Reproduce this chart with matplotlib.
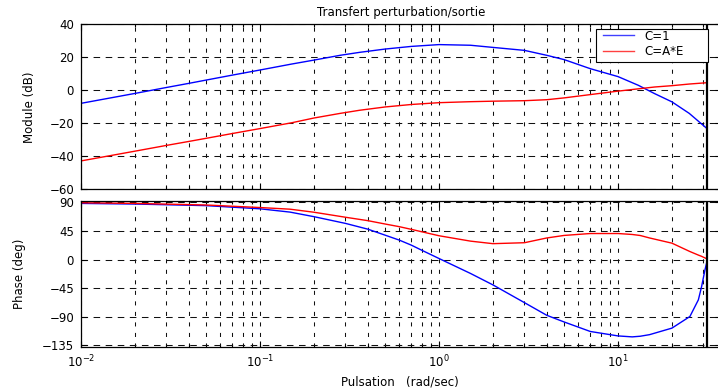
import matplotlib
matplotlib.use("Agg")
import matplotlib.pyplot as plt
from matplotlib.patches import Rectangle
from matplotlib.ticker import LogLocator, NullFormatter, FixedLocator

plt.rcParams['font.family'] = ['DejaVu Sans']
plt.rcParams['mathtext.fontset'] = 'dejavusans'

# Gain curves (dB) versus angular frequency (rad/s)
w_mag = [0.01, 0.02, 0.03, 0.04, 0.05, 0.07, 0.1, 0.15, 0.2, 0.28, 0.36, 0.5,
         0.7, 1.0, 1.5, 2.0, 3.0, 4.0, 5.0, 7.0, 10.0, 13.0, 16.0, 20.0,
         25.0, 31.4]
mag_c1 = [-7.9, -1.9, 1.7, 4.2, 6.2, 9.2, 12.3, 15.9, 18.3, 21.2, 23.0,
          25.0, 26.6, 27.7, 27.3, 26.0, 24.2, 21.2, 18.6, 13.1, 8.3, 3.0,
          -2.0, -7.0, -14.0, -23.2]
mag_ae = [-42.8, -36.9, -33.4, -31.0, -29.1, -26.2, -23.2, -19.7, -16.8,
          -14.0, -12.1, -10.1, -8.6, -7.5, -6.9, -6.6, -6.3, -5.7, -4.6, -2.6,
          -0.5, 0.9, 2.0, 2.8, 3.8, 4.6]

# Phase curves (deg)
w_ph = [0.01, 0.02, 0.05, 0.1, 0.147, 0.2, 0.3, 0.4, 0.5, 0.6, 0.7, 0.8,
        1.0, 1.5, 2.0, 3.0, 4.0, 5.0, 7.0, 10.0, 12.0, 13.3, 15.0, 20.0,
        25.2, 28.1, 29.3, 30.6, 31.4]
ph_c1 = [88.5, 87.5, 85.0, 80.0, 74.8, 67.6, 57.0, 47.9, 38.4, 30.6, 22.7,
         14.7, 1.6, -22.0, -40.0, -68.0, -88.0, -98.5, -113.5, -120.5,
         -122.0, -121.0, -118.5, -108.2, -89.9, -63.6, -42.6, -16.2, -3.2]
ph_ae = [89.5, 88.5, 86.0, 82.0, 79.4, 74.6, 66.7, 61.3, 56.0, 51.8, 47.6,
         43.8, 37.5, 29.0, 25.0, 26.5, 34.0, 38.0, 41.0, 41.0, 39.5, 37.9,
         34.0, 25.8, 12.6, 7.0, 5.0, 2.5, 1.1]

nyquist = 31.4
x_lim = (0.01, 37.6)
mag_ticks = [-60, -40, -20, 0, 20, 40]
phase_ticks = [-135, -90, -45, 0, 45, 90]

W, H = 718, 392
fig = plt.figure(figsize=(W / 100, H / 100), dpi=100)


def px_box(x0, y_top, x1, y_bot):
    return [x0 / W, 1 - y_bot / H, (x1 - x0) / W, (y_bot - y_top) / H]


ax1 = fig.add_axes(px_box(81, 24.3, 721, 189.3))
ax2 = fig.add_axes(px_box(81, 201, 721, 346.7))

FS = 8.5
LW_GRID = 0.75

for ax in (ax1, ax2):
    ax.set_xscale('log')
    ax.set_xlim(*x_lim)
    ax.xaxis.set_major_locator(LogLocator(base=10, numticks=10))
    ax.xaxis.set_minor_locator(LogLocator(base=10, subs=range(2, 10), numticks=20))
    ax.xaxis.set_minor_formatter(NullFormatter())
    ax.tick_params(which='both', direction='in', top=True, right=True,
                   labelsize=FS, width=0.8, color='black')
    ax.tick_params(which='major', length=4, pad=5)
    ax.tick_params(which='minor', length=2.5)
    ax.grid(True, which='major', axis='y', color='#111111',
            linestyle=(0, (6.3, 5.3)), linewidth=LW_GRID)
    ax.grid(True, which='both', axis='x', color='#111111',
            linestyle=(0, (3.9, 6.2)), linewidth=LW_GRID)
    ax.set_axisbelow(True)
    for s in ax.spines.values():
        s.set_color('black')
        s.set_linewidth(0.9)
    ax.axvline(nyquist, color='black', linewidth=1.6, zorder=4)

# Gain
ax1.plot(w_mag, mag_c1, color='#0000ff', linewidth=1.0, label='C=1')
ax1.plot(w_mag, mag_ae, color='#ff0000', linewidth=1.0, label='C=A*E')
ax1.set_ylim(-60, 40)
ax1.yaxis.set_major_locator(FixedLocator(mag_ticks))
ax1.tick_params(axis='x', which='both', labelbottom=False)
ax1.set_ylabel('Module (dB)', fontsize=FS, va='center')
ax1.yaxis.set_label_coords((29 - 81) / 640, 0.5)
ax1.set_title('Transfert perturbation/sortie', fontsize=FS, pad=6)

# Legend box, then the entries placed inside it
box = Rectangle((596 / W, 1 - 62 / H), 112 / W, 33 / H, transform=fig.transFigure,
                facecolor='white', edgecolor='black', linewidth=0.8, zorder=4)
fig.add_artist(box)
handles, labels = ax1.get_legend_handles_labels()
leg = fig.legend(handles, labels, loc='upper left',
                 bbox_to_anchor=(603 / W, 1 - 29.5 / H),
                 bbox_transform=fig.transFigure, fontsize=FS, frameon=False,
                 handlelength=2.65, handletextpad=0.85, labelspacing=0.22,
                 borderpad=0.0, borderaxespad=0)
leg.set_zorder(5)
for ln in leg.get_lines():
    ln.set_linewidth(1.0)
    ln.set_alpha(0.75)

# Phase
ax2.plot(w_ph, ph_c1, color='#0000ff', linewidth=1.0)
ax2.plot(w_ph, ph_ae, color='#ff0000', linewidth=1.0)
ax2.set_ylim(-137.5, 92.3)
ax2.yaxis.set_major_locator(FixedLocator(phase_ticks))
ax2.set_ylabel('Phase (deg)', fontsize=FS, va='center')
ax2.yaxis.set_label_coords((20 - 81) / 640, 0.5)
ax2.tick_params(axis='x', which='major', pad=5)

fig.text(400 / W, 1 - 381.7 / H, 'Pulsation   (rad/sec)', fontsize=FS,
         ha='center', va='center')

fig.savefig('out.png', dpi=100)
